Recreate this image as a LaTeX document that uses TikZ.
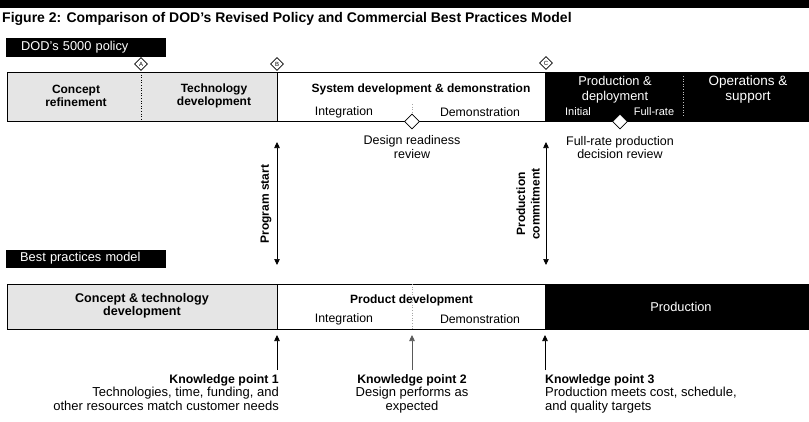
\documentclass[tikz,border=0pt]{standalone}
\usepackage{fontspec}
\setmainfont{Liberation Sans}
\usetikzlibrary{shapes.geometric,arrows.meta}
\newcommand\kpbold{\bfseries\fontsize{12.3}{13.8}\selectfont}

\begin{document}
\begin{tikzpicture}[x=1pt,y=-1pt,
  seg/.style={rectangle, draw=none, inner sep=0, anchor=north west},
  hd/.style={font=\bfseries\fontsize{12}{13}\selectfont, align=center, inner sep=0},
  sub/.style={font=\fontsize{12.3}{13}\selectfont, inner sep=0},
  tag/.style={fill=black, text=white, anchor=north west, inner sep=0,
              font=\fontsize{12.8}{14}\selectfont, text height=9pt, text depth=2.5pt},
  gate/.style={diamond, draw, fill=white, inner sep=0, minimum size=13pt,
               line width=0.7pt, font=\fontsize{6}{6}\selectfont},
  review/.style={diamond, draw, fill=white, inner sep=0, minimum size=15pt, line width=0.7pt},
  note/.style={font=\fontsize{12.5}{13.5}\selectfont, align=center, inner sep=0},
  kp/.style={font=\fontsize{13}{13.8}\selectfont, inner sep=0},
  dbl/.style={{Triangle[length=6pt,width=5.5pt]}-{Triangle[length=6pt,width=5.5pt]}, line width=0.7pt},
  up/.style={-{Triangle[length=6pt,width=5.5pt]}, line width=0.7pt},
  dots/.style={dotted, line width=0.6pt}
]
\useasboundingbox (0,0) rectangle (809,421);

% header rule and title
\fill (0,0) rectangle (809,8);
\node[anchor=base west, inner sep=0, font=\bfseries\fontsize{14}{16}\selectfont] (title) at (2,22)
  {Figure 2: Comparison of DOD's Revised Policy and Commercial Best Practices Model};

% ---------------- DOD 5000 policy band ----------------
\node[tag, minimum width=160pt, minimum height=19pt, text width=150pt] (dodtag) at (6,37.5)
  {\hspace*{10pt}DOD's 5000 policy};

\node[seg, fill=gray!20, minimum width=270pt, minimum height=49pt] (dtech) at (7,72) {};
\node[seg, fill=white, minimum width=268pt, minimum height=49pt] (dsys) at (277,72) {};
\node[seg, fill=black, minimum width=264pt, minimum height=49pt] (dprod) at (545,72) {};
\draw[line width=0.8pt] (7,72) -- (809,72);
\draw[line width=0.8pt] (7,121) -- (809,121);
\draw[line width=0.8pt] (7,72) -- (7,121);
\draw[line width=0.8pt] (277,72) -- (277,121);
\draw[dots] (141,72) -- (141,121);
\draw[dots, gray!70] (412,104) -- (412,121);
\draw[dots, gray!50] (683,76) -- (683,116);

\node[hd] (cref) at (76,95.5) {Concept\\refinement};
\node[hd] (tdev) at (214,95.5) {Technology\\development};
\node[hd] (sdd) at (421,89) {System development \& demonstration};
\node[sub] (dint) at (344,112) {Integration};
\node[sub] (ddem) at (480,112) {Demonstration};
\node[text=white, align=center, inner sep=0, font=\fontsize{12.8}{14.5}\selectfont] (pd) at (615,89.5) {Production \&\\deployment};
\node[sub, text=white, font=\fontsize{11}{12}\selectfont] (pinit) at (578,112) {Initial};
\node[sub, text=white, font=\fontsize{11}{12}\selectfont] (pfull) at (654,112) {Full-rate};
\node[text=white, align=center, inner sep=0, font=\fontsize{13.5}{14.5}\selectfont] (os) at (748,89.5) {Operations \&\\support};

% milestone gates
\node[gate] (gA) at (141,64) {A};
\node[gate] (gB) at (277,64) {B};
\node[gate] (gC) at (546,63) {C};

% reviews
\node[review] (drr) at (412,121.5) {};
\node[review] (frp) at (620,121.5) {};
\node[note] (drrtxt) at (412,147) {Design readiness\\review};
\node[note] (frptxt) at (620,147.5) {Full-rate production\\decision review};

% ---------------- link arrows between the two models ----------------
\coordinate (ps1) at (277,142);
\coordinate (ps2) at (277,265);
\coordinate (pc1) at (546,142);
\coordinate (pc2) at (546,265);
\draw[dbl] (ps1) -- (ps2);
\draw[dbl] (pc1) -- (pc2);
\node[hd, rotate=90] (pstart) at (266,204) {Program start};
\node[hd, rotate=90, font=\bfseries\fontsize{12}{14.5}\selectfont] (pcom) at (528,204) {Production\\commitment};

% ---------------- best practices band ----------------
\node[tag, minimum width=160pt, minimum height=18pt, text width=150pt] (bptag) at (6,249.5)
  {\hspace*{9pt}Best practices model};

\node[seg, fill=gray!20, minimum width=270pt, minimum height=45pt] (btech) at (7,284) {};
\node[seg, fill=white, minimum width=268pt, minimum height=45pt] (bdev) at (277,284) {};
\node[seg, fill=black, minimum width=264pt, minimum height=45pt] (bprod) at (545,284) {};
\draw[line width=0.8pt] (7,284) -- (809,284);
\draw[line width=0.8pt] (7,329) -- (809,329);
\draw[line width=0.8pt] (7,284) -- (7,329);
\draw[line width=0.8pt] (277,284) -- (277,329);
\draw[dots, gray!70] (412,284) -- (412,329);

\node[hd, font=\bfseries\fontsize{12.6}{13}\selectfont] (ctd) at (142,306) {Concept \& technology\\development};
\node[hd] (pdev) at (411.5,300) {Product development};
\node[sub] (bint) at (344,319) {Integration};
\node[sub] (bdem) at (480,319) {Demonstration};
\node[text=white, inner sep=0, font=\fontsize{12.8}{14}\selectfont] (bpr) at (681,307) {Production};

% knowledge points
\coordinate (k1) at (277,335);
\coordinate (k2) at (412,335);
\coordinate (k3) at (545,335);
\node[kp, anchor=north east, align=right] (kp1) at (279,374)
  {{\kpbold Knowledge point 1}\\Technologies, time, funding, and\\other resources match customer needs};
\node[kp, anchor=north, align=center] (kp2) at (412,374)
  {{\kpbold Knowledge point 2}\\Design performs as\\expected};
\node[kp, anchor=north west, align=left] (kp3) at (545,374)
  {{\kpbold Knowledge point 3}\\Production meets cost, schedule,\\and quality targets};
\draw[up] (kp1.north east -| k1) ++(0,-4) -- (k1);
\draw[up, gray!70!black] (kp2.north) ++(0,-4) -- (k2);
\draw[up] (kp3.north west -| k3) ++(0,-4) -- (k3);
\end{tikzpicture}
\end{document}
